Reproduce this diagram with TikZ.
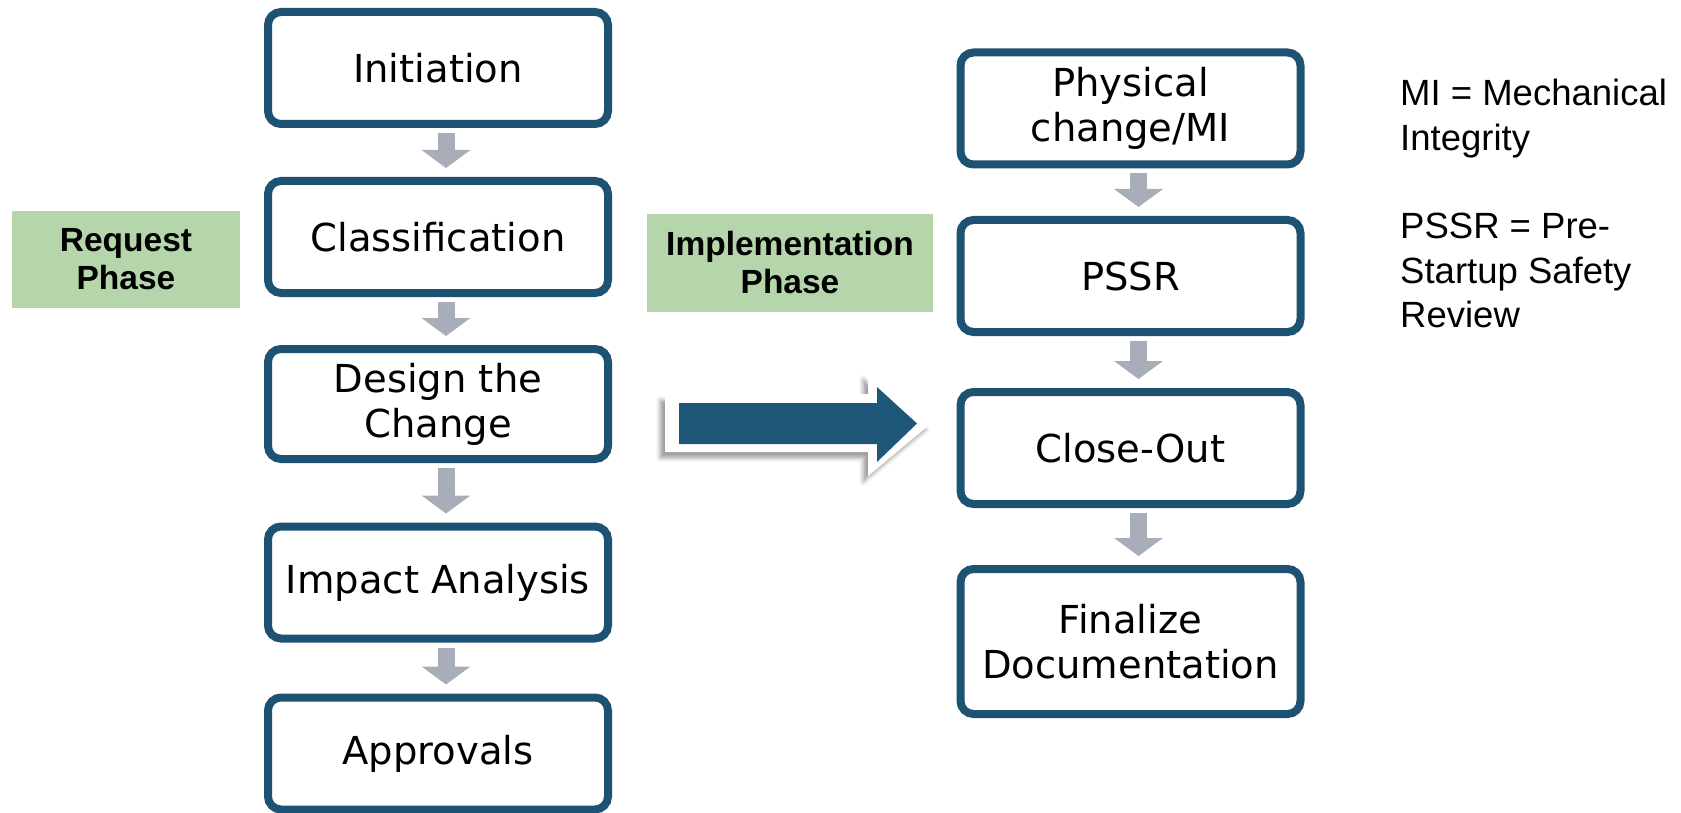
\documentclass[tikz,border=0pt]{standalone}
\usepackage{fontspec}
\setmainfont{DejaVu Sans}
\newfontfamily\arialfont{Liberation Sans}
\usetikzlibrary{arrows.meta,shadows.blur}

\definecolor{boxblue}{RGB}{30,82,115}
\definecolor{arrowblue}{RGB}{31,87,120}
\definecolor{flowgray}{RGB}{167,173,185}
\definecolor{phasegreen}{RGB}{180,214,170}

\begin{document}
\begin{tikzpicture}[x=1pt,y=-1pt,
  stepbox/.style={draw=boxblue, line width=8pt, rounded corners=13pt, fill=white,
    minimum width=340pt, minimum height=112pt, align=center, inner sep=2pt,
    font=\fontsize{38.5}{45}\selectfont},
  phasebox/.style={fill=phasegreen, align=center, inner sep=0pt,
    font=\arialfont\bfseries\fontsize{33.5}{38}\selectfont},
  flow/.style={draw=flowgray, line width=17pt, -{Triangle[width=48pt,length=18pt]}},
]
\useasboundingbox (0,0) rectangle (1681,813);

% request phase steps
\node[stepbox] (init)   at (438,68)    {Initiation};
\node[stepbox] (class)  at (438,237)   {Classification};
\node[stepbox, minimum height=110pt] (design) at (438,404) {Design the\\Change};
\node[stepbox] (impact) at (438,582.5) {Impact Analysis};
\node[stepbox] (approv) at (438,753.5) {Approvals};

% implementation phase steps
\node[stepbox] (phys)  at (1130.5,108.5) {Physical\\change/MI};
\node[stepbox] (pssr)  at (1130.5,276)   {PSSR};
\node[stepbox] (close) at (1130.5,448)   {Close-Out};
\node[stepbox, minimum height=145pt] (final) at (1130.5,641.5) {Finalize\\Documentation};

% phase labels
\node[phasebox, minimum width=228pt, minimum height=97pt] (req)  at (126,259.5) {Request\\Phase};
\node[phasebox, minimum width=286pt, minimum height=98pt] (impl) at (790,263)   {Implementation\\Phase};

% step-to-step arrows
\foreach \a/\b in {init/class, class/design, design/impact, impact/approv,
                   phys/pssr, pssr/close, close/final}
  \draw[flow] ([xshift=8pt,yshift=-5pt]\a.south) -- ([xshift=8pt,yshift=9pt]\b.north);

% block arrow leading from one phase to the next, white rim with soft shadow
\path[fill=white, blur shadow={shadow xshift=-5pt, shadow yshift=-6pt,
      shadow blur radius=4pt, shadow opacity=38}]
  (665,394) -- (868,394) -- (868,373) -- (931,423.5) -- (868,476) -- (868,452) -- (665,452) -- cycle;
\fill[arrowblue]
  (679,403) -- (877,403) -- (877,387) -- (917,423.5) -- (877,462) -- (877,444) -- (679,444) -- cycle;

% abbreviations
\node[anchor=north west, inner sep=0pt, align=left,
      font=\arialfont\fontsize{36.5}{44.4}\selectfont] (legend) at (1400,79)
  {MI = Mechanical\\Integrity\\[44.4pt]PSSR = Pre-\\Startup Safety\\Review};
\end{tikzpicture}
\end{document}
